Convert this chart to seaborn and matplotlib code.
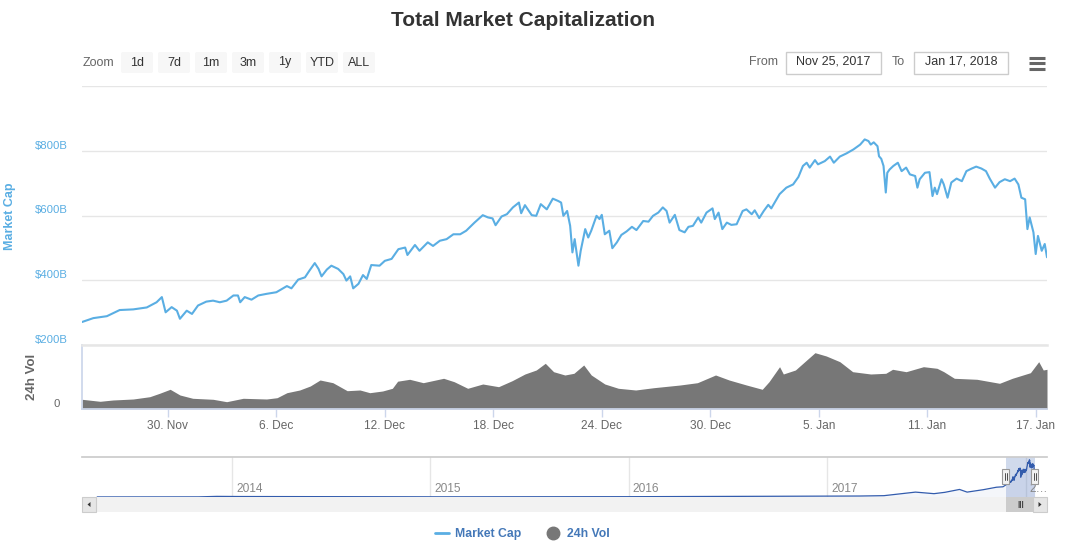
import matplotlib

matplotlib.use("Agg")
import matplotlib.dates as mdates
import matplotlib.pyplot as plt
import matplotlib.transforms as mtransforms
import pandas as pd
import seaborn as sns
from matplotlib.lines import Line2D
from matplotlib.patches import FancyBboxPatch, Polygon

# Market cap ($B)
cap_time = [
    "2017-11-25 06", "2017-11-25 21", "2017-11-26 15", "2017-11-27 08", "2017-11-28 02",
    "2017-11-28 20", "2017-11-29 09", "2017-11-29 16", "2017-11-29 21", "2017-11-30 05",
    "2017-11-30 12", "2017-11-30 16", "2017-12-01 01", "2017-12-01 08", "2017-12-01 16",
    "2017-12-02 03", "2017-12-02 12", "2017-12-02 21", "2017-12-03 06", "2017-12-03 15",
    "2017-12-03 21", "2017-12-04 00", "2017-12-04 06", "2017-12-04 15", "2017-12-05 00",
    "2017-12-05 11", "2017-12-06 00", "2017-12-06 14", "2017-12-06 20", "2017-12-07 05",
    "2017-12-07 14", "2017-12-07 20", "2017-12-08 03", "2017-12-08 08", "2017-12-08 12",
    "2017-12-08 19", "2017-12-09 01", "2017-12-09 10", "2017-12-09 17", "2017-12-09 21",
    "2017-12-10 02", "2017-12-10 06", "2017-12-10 13", "2017-12-10 19", "2017-12-11 00",
    "2017-12-11 06", "2017-12-11 17", "2017-12-12 00", "2017-12-12 09", "2017-12-12 18",
    "2017-12-13 03", "2017-12-13 06", "2017-12-13 16", "2017-12-13 22", "2017-12-14 09",
    "2017-12-14 16", "2017-12-15 01", "2017-12-15 10", "2017-12-15 19", "2017-12-16 04",
    "2017-12-16 12", "2017-12-16 23", "2017-12-17 10", "2017-12-17 17", "2017-12-17 23",
    "2017-12-18 03", "2017-12-18 11", "2017-12-18 18", "2017-12-19 02", "2017-12-19 10",
    "2017-12-19 13", "2017-12-19 18", "2017-12-20 03", "2017-12-20 09", "2017-12-20 15",
    "2017-12-20 23", "2017-12-21 07", "2017-12-21 14", "2017-12-21 18", "2017-12-21 21",
    "2017-12-22 02", "2017-12-22 06", "2017-12-22 09", "2017-12-22 12", "2017-12-22 17",
    "2017-12-22 20", "2017-12-23 02", "2017-12-23 06", "2017-12-23 10", "2017-12-23 17",
    "2017-12-23 21", "2017-12-24 00", "2017-12-24 04", "2017-12-24 10", "2017-12-24 14",
    "2017-12-24 20", "2017-12-25 02", "2017-12-25 09", "2017-12-25 16", "2017-12-25 22",
    "2017-12-26 07", "2017-12-26 14", "2017-12-26 20", "2017-12-27 03", "2017-12-27 09",
    "2017-12-27 14", "2017-12-27 18", "2017-12-28 01", "2017-12-28 07", "2017-12-28 14",
    "2017-12-28 19", "2017-12-29 01", "2017-12-29 08", "2017-12-29 12", "2017-12-29 19",
    "2017-12-30 03", "2017-12-30 06", "2017-12-30 11", "2017-12-30 16", "2017-12-30 22",
    "2017-12-31 04", "2017-12-31 11", "2017-12-31 19", "2018-01-01 00", "2018-01-01 07",
    "2018-01-01 11", "2018-01-01 17", "2018-01-01 23", "2018-01-02 05", "2018-01-02 09",
    "2018-01-02 20", "2018-01-03 05", "2018-01-03 14", "2018-01-03 21", "2018-01-04 03",
    "2018-01-04 08", "2018-01-04 12", "2018-01-04 19", "2018-01-04 23", "2018-01-05 08",
    "2018-01-05 15", "2018-01-05 20", "2018-01-06 04", "2018-01-06 13", "2018-01-06 22",
    "2018-01-07 07", "2018-01-07 13", "2018-01-07 18", "2018-01-07 21", "2018-01-08 01",
    "2018-01-08 06", "2018-01-08 08", "2018-01-08 11", "2018-01-08 14", "2018-01-08 17",
    "2018-01-08 19", "2018-01-08 22", "2018-01-09 03", "2018-01-09 09", "2018-01-09 14",
    "2018-01-09 20", "2018-01-10 01", "2018-01-10 08", "2018-01-10 11", "2018-01-10 14",
    "2018-01-10 21", "2018-01-11 03", "2018-01-11 07", "2018-01-11 10", "2018-01-11 13",
    "2018-01-11 19", "2018-01-11 22", "2018-01-12 03", "2018-01-12 08", "2018-01-12 15",
    "2018-01-12 22", "2018-01-13 04", "2018-01-13 11", "2018-01-13 17", "2018-01-14 00",
    "2018-01-14 06", "2018-01-14 11", "2018-01-14 18", "2018-01-15 00", "2018-01-15 07",
    "2018-01-15 14", "2018-01-15 20", "2018-01-16 01", "2018-01-16 05", "2018-01-16 10",
    "2018-01-16 13", "2018-01-16 16", "2018-01-16 21", "2018-01-17 00", "2018-01-17 03",
    "2018-01-17 08", "2018-01-17 12", "2018-01-17 15",
]
cap_value = [
    271, 283, 289, 308, 310, 316, 332, 348, 301, 317,
    306, 281, 306, 296, 322, 334, 337, 332, 337, 353,
    353, 332, 348, 340, 353, 358, 363, 382, 375, 402,
    409, 430, 453, 435, 412, 433, 445, 435, 419, 399,
    412, 375, 389, 416, 404, 447, 445, 460, 466, 496,
    501, 478, 509, 491, 517, 506, 522, 527, 542, 542,
    553, 578, 601, 594, 591, 570, 597, 604, 625, 640,
    607, 632, 601, 599, 635, 619, 652, 645, 640, 599,
    614, 568, 486, 527, 445, 491, 558, 532, 553, 599,
    589, 602, 542, 553, 499, 517, 540, 551, 565, 555,
    583, 581, 599, 609, 625, 614, 578, 602, 555, 548,
    565, 568, 594, 578, 609, 622, 589, 609, 558, 578,
    571, 573, 614, 619, 604, 616, 592, 614, 633, 622,
    666, 686, 696, 719, 753, 763, 748, 771, 758, 768,
    782, 763, 782, 792, 804, 819, 835, 830, 819, 826,
    814, 783, 775, 753, 671, 732, 742, 753, 763, 737,
    748, 727, 722, 686, 712, 732, 734, 660, 686, 666,
    712, 696, 655, 702, 714, 706, 737, 745, 751, 745,
    737, 714, 686, 703, 712, 706, 714, 696, 655, 650,
    558, 594, 548, 481, 537, 491, 512, 471,
]

# 24h volume ($B)
vol_time = [
    "2017-11-25 06", "2017-11-26 06", "2017-11-26 23", "2017-11-28 02", "2017-11-29 00",
    "2017-11-29 13", "2017-11-30 03", "2017-11-30 16", "2017-12-01 09", "2017-12-02 12",
    "2017-12-03 06", "2017-12-04 04", "2017-12-05 11", "2017-12-06 01", "2017-12-06 14",
    "2017-12-07 07", "2017-12-07 21", "2017-12-08 10", "2017-12-09 03", "2017-12-09 22",
    "2017-12-10 15", "2017-12-11 04", "2017-12-11 21", "2017-12-12 10", "2017-12-12 17",
    "2017-12-13 09", "2017-12-14 03", "2017-12-15 06", "2017-12-15 20", "2017-12-16 14",
    "2017-12-17 10", "2017-12-18 07", "2017-12-19 01", "2017-12-19 18", "2017-12-20 09",
    "2017-12-20 21", "2017-12-21 08", "2017-12-21 23", "2017-12-22 11", "2017-12-23 00",
    "2017-12-23 10", "2017-12-24 04", "2017-12-24 22", "2017-12-25 21", "2017-12-26 21",
    "2017-12-28 08", "2017-12-29 07", "2017-12-30 07", "2017-12-31 01", "2018-01-01 00",
    "2018-01-01 21", "2018-01-02 06", "2018-01-02 20", "2018-01-03 01", "2018-01-03 17",
    "2018-01-04 08", "2018-01-04 19", "2018-01-05 10", "2018-01-06 04", "2018-01-06 21",
    "2018-01-07 21", "2018-01-08 17", "2018-01-09 02", "2018-01-09 20", "2018-01-10 19",
    "2018-01-11 13", "2018-01-11 22", "2018-01-12 12", "2018-01-13 18", "2018-01-15 00",
    "2018-01-15 17", "2018-01-16 17", "2018-01-17 04", "2018-01-17 10", "2018-01-17 15",
]
vol_value = [
    9.7, 7.7, 9.0, 10.0, 12.3, 15.7, 19.7, 14.0, 10.7, 9.7,
    7.3, 10.7, 10.0, 11.3, 16.3, 19.0, 23.0, 29.0, 26.3, 18.3,
    19.0, 16.3, 18.0, 20.7, 27.8, 29.7, 26.3, 30.7, 27.3, 20.7,
    25.0, 22.3, 28.3, 35.0, 39.0, 45.7, 37.3, 34.0, 35.7, 44.0,
    34.0, 25.0, 20.7, 19.0, 21.3, 24.0, 26.3, 34.0, 29.0, 24.0,
    19.7, 27.3, 42.3, 35.0, 39.0, 49.0, 56.3, 53.0, 47.3, 37.3,
    35.0, 35.7, 39.7, 37.3, 42.3, 40.7, 37.3, 30.7, 29.7, 25.7,
    30.7, 36.3, 47.3, 39.0, 39.7,
]

# earlier history shown only in the navigator ($B)
hist_time = [
    "2013-04-28", "2013-11-01", "2013-12-04", "2014-01-15", "2014-06-01",
    "2015-01-15", "2016-01-01", "2016-06-15", "2017-01-01", "2017-03-01",
    "2017-04-15", "2017-05-25", "2017-06-12", "2017-07-16", "2017-08-05",
    "2017-09-01", "2017-09-15", "2017-10-15", "2017-11-08", "2017-11-20",
]
hist_value = [1.6, 3, 14, 11, 8, 4, 7, 12, 17, 22, 30, 85, 110, 75, 105, 170, 110, 165, 220, 230]

x_ticks = ["2017-11-30", "2017-12-06", "2017-12-12", "2017-12-18", "2017-12-24",
           "2017-12-30", "2018-01-05", "2018-01-11", "2018-01-17"]
x_tick_labels = ["30. Nov", "6. Dec", "12. Dec", "18. Dec", "24. Dec",
                 "30. Dec", "5. Jan", "11. Jan", "17. Jan"]
cap_ticks = [200, 400, 600, 800, 1000]
cap_tick_labels = ["$200B", "$400B", "$600B", "$800B", ""]
nav_years = ["2014-01-01", "2015-01-01", "2016-01-01", "2017-01-01", "2018-01-01"]
nav_year_labels = ["2014", "2015", "2016", "2017", "2\u2026"]
zoom_buttons = ["1d", "7d", "1m", "3m", "1y", "YTD", "ALL"]
date_from = "Nov 25, 2017"
date_to = "Jan 17, 2018"

BLUE = "#5aaee3"
VOL_GRAY = "#777777"
GRID = "#e6e6e6"
AXIS = "#ccd6eb"
NAV = "#335cad"

W, H = 1075, 546


def fx(x):
    return x / W


def fy(y):
    return 1 - y / H


cap_df = pd.DataFrame({"time": pd.to_datetime(cap_time, format="%Y-%m-%d %H"), "cap": cap_value})
vol_df = pd.DataFrame({"time": pd.to_datetime(vol_time, format="%Y-%m-%d %H"), "vol": vol_value})
nav_df = pd.concat(
    [pd.DataFrame({"time": pd.to_datetime(hist_time), "cap": hist_value}), cap_df],
    ignore_index=True,
)

sns.set_theme(style="white")
plt.rcParams["font.family"] = ["Liberation Sans", "DejaVu Sans"]

fig = plt.figure(figsize=(W / 100, H / 100), dpi=100)
fig.patch.set_facecolor("white")


def px_box(x0, y0, x1, y1, **kw):
    # rectangle in pixel coords measured from the top-left corner
    kw.setdefault("boxstyle", "square,pad=0")
    p = FancyBboxPatch((x0 / 100, (H - y1) / 100), (x1 - x0) / 100, (y1 - y0) / 100,
                       transform=fig.dpi_scale_trans, **kw)
    fig.add_artist(p)
    return p


def px_tri(pts, **kw):
    p = Polygon([(x / 100, (H - y) / 100) for x, y in pts], closed=True,
                transform=fig.dpi_scale_trans, **kw)
    fig.add_artist(p)


left, right = fx(82), fx(1047)
ax_cap = fig.add_axes([left, fy(345), right - left, fy(86) - fy(345)])
ax_vol = fig.add_axes([left, fy(409), right - left, fy(345) - fy(409)], sharex=ax_cap)
ax_nav = fig.add_axes([left, fy(497), right - left, fy(457) - fy(497)])
ax_sb = fig.add_axes([left, fy(512), right - left, fy(497) - fy(512)], sharex=ax_nav)

# --- market cap panel ---
sns.lineplot(data=cap_df, x="time", y="cap", ax=ax_cap, color=BLUE, linewidth=1.5)
ax_cap.set_ylim(200, 1000)
ax_cap.set_yticks(cap_ticks)
ax_cap.set_yticklabels(cap_tick_labels)
ax_cap.yaxis.grid(True, color=GRID, linewidth=1)
ax_cap.xaxis.grid(False)
ax_cap.tick_params(axis="y", length=0, pad=10, labelcolor=BLUE, labelsize=8.2)
for t in ax_cap.get_yticklabels():
    t.set_va("bottom")
ax_cap.tick_params(axis="x", bottom=False, labelbottom=False)
ax_cap.set_xlabel("")
ax_cap.set_ylabel("")
for s in ax_cap.spines.values():
    s.set_visible(False)
ax_cap.set_xlim(cap_df["time"].min(), cap_df["time"].max())

# --- volume panel ---
ax_vol.fill_between(vol_df["time"], vol_df["vol"], color=VOL_GRAY, linewidth=0)
ax_vol.set_ylim(0, 64)
ax_vol.set_yticks([0])
ax_vol.set_yticklabels(["0"])
ax_vol.tick_params(axis="y", length=0, pad=16, labelcolor="#666666", labelsize=8.2)
for t in ax_vol.get_yticklabels():
    t.set_va("bottom")
ax_vol.set_xticks(pd.to_datetime(x_ticks))
ax_vol.set_xticklabels(x_tick_labels)
ax_vol.tick_params(axis="x", length=6, width=1, color=AXIS, pad=2,
                   labelcolor="#666666", labelsize=8.6, bottom=True)
ax_vol.grid(False)
ax_vol.spines["right"].set_visible(False)
ax_vol.spines["left"].set_color(AXIS)
ax_vol.spines["bottom"].set_color(AXIS)
ax_vol.spines["top"].set_color(GRID)
ax_vol.spines["top"].set_linewidth(1.8)
ax_vol.set_xlim(cap_df["time"].min(), cap_df["time"].max())

fig.text(fx(10), fy(216), "Market Cap", rotation=90, ha="center", va="center",
         color=BLUE, fontsize=9, fontweight="bold")
fig.text(fx(32), fy(377), "24h Vol", rotation=90, ha="center", va="center",
         color="#666666", fontsize=9.5, fontweight="bold")

# --- navigator ---
sns.lineplot(data=nav_df, x="time", y="cap", ax=ax_nav, color=NAV, linewidth=0.9)
ax_nav.fill_between(nav_df["time"], nav_df["cap"], color=NAV, alpha=0.05, linewidth=0)
ax_nav.set_xlim(pd.Timestamp("2013-03-31"), pd.Timestamp("2018-02-09"))
ax_nav.set_ylim(0, 900)
ax_nav.set_xlabel("")
ax_nav.set_ylabel("")
ax_nav.set_yticks([])
ax_nav.set_xticks([])
ax_nav.grid(False)
for s in ax_nav.spines.values():
    s.set_visible(False)
ax_nav.spines["top"].set_visible(True)
ax_nav.spines["top"].set_color("#cccccc")
year_ts = pd.to_datetime(nav_years)
for yt in year_ts:
    ax_nav.axvline(yt, color=GRID, linewidth=1, zorder=0)
lab_trans = mtransforms.offset_copy(ax_nav.get_xaxis_transform(), fig=fig, x=4, y=0, units="dots")
for yt, lab in zip(year_ts, nav_year_labels):
    ax_nav.text(yt, 0.2, lab, transform=lab_trans, ha="left", va="center",
                fontsize=8.6, color="#888888")
sel_start, sel_end = cap_df["time"].min(), cap_df["time"].max()
ax_nav.axvspan(sel_start, sel_end, color="#6685c2", alpha=0.3, linewidth=0)

# --- scrollbar ---
ax_sb.set_facecolor("#f2f2f2")
ax_sb.set_yticks([])
ax_sb.tick_params(axis="x", bottom=False, labelbottom=False)
ax_sb.grid(False)
for s in ax_sb.spines.values():
    s.set_visible(False)
ax_sb.axvspan(sel_start, sel_end, color="#cccccc", linewidth=0)
ax_sb.text(sel_start + (sel_end - sel_start) / 2, 0.5, "|||", transform=ax_sb.get_xaxis_transform(),
           ha="center", va="center", fontsize=5.5, color="#333333", fontweight="bold")

fig.canvas.draw()
for t in [sel_start, sel_end]:
    xpix = ax_nav.transData.transform((mdates.date2num(t), 0))[0]
    px_box(xpix - 3.5, 469, xpix + 3.5, 484, fc="#f2f2f2", ec="#999999", lw=0.8, zorder=5)
    for dx in (-1.2, 1.2):
        fig.add_artist(Line2D([(xpix + dx) / W] * 2, [fy(473), fy(480)], color="#333333",
                              linewidth=0.6, zorder=6))

px_box(82, 497, 96, 512, fc="#e6e6e6", ec="#cccccc", lw=0.8, zorder=5)
px_box(1033, 497, 1047, 512, fc="#e6e6e6", ec="#cccccc", lw=0.8, zorder=5)
px_tri([(87.5, 504.5), (90.5, 502), (90.5, 507)], fc="#333333", ec="none", zorder=6)
px_tri([(1041.5, 504.5), (1038.5, 502), (1038.5, 507)], fc="#333333", ec="none", zorder=6)

# --- title & range selector ---
fig.text(fx(523), fy(20), "Total Market Capitalization", ha="center", va="center",
         fontsize=15, fontweight="bold", color="#333333")
fig.text(fx(83), fy(63), "Zoom", ha="left", va="center", fontsize=9, color="#666666")
for i, lab in enumerate(zoom_buttons):
    x0 = 121 + i * 37
    px_box(x0, 52, x0 + 32, 73, boxstyle="round,pad=0,rounding_size=0.02",
           fc="#f7f7f7", ec="none")
    fig.text(fx(x0 + 16), fy(62.5), lab, ha="center", va="center", fontsize=9, color="#333333")

fig.text(fx(749), fy(62), "From", ha="left", va="center", fontsize=9, color="#666666")
px_box(786, 52, 881, 74, fc="white", ec="#cccccc", lw=1)
fig.text(fx(833.5), fy(62), date_from, ha="center", va="center", fontsize=9, color="#333333")
fig.text(fx(892), fy(62), "To", ha="left", va="center", fontsize=9, color="#666666")
px_box(914, 52, 1008, 74, fc="white", ec="#cccccc", lw=1)
fig.text(fx(961), fy(62), date_to, ha="center", va="center", fontsize=9, color="#333333")
for yy in (58.3, 63.3, 68.5):
    fig.add_artist(Line2D([fx(1029), fx(1045)], [fy(yy), fy(yy)], color="#666666",
                          linewidth=2.2, solid_capstyle="butt"))

# --- legend ---
handles = [
    Line2D([0], [0], color=BLUE, linewidth=2),
    Line2D([0], [0], color=VOL_GRAY, marker="o", markersize=9, linestyle="none"),
]
leg = fig.legend(handles, ["Market Cap", "24h Vol"], loc="center", bbox_to_anchor=(fx(522), fy(534)),
                 ncol=2, frameon=False, handlelength=1.2, handletextpad=0.5, columnspacing=2.0,
                 prop={"weight": "bold", "size": 8.8})
for txt in leg.get_texts():
    txt.set_color("#4478b8")

fig.savefig("out.png", dpi=100, facecolor="white")
